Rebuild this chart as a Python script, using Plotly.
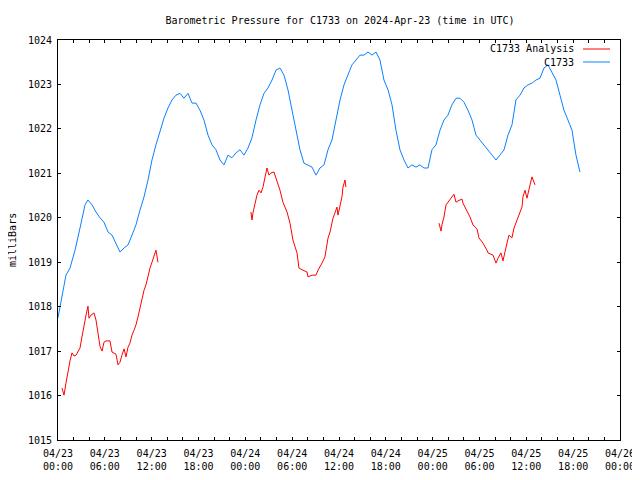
import pandas as pd
import plotly.graph_objects as go

START = pd.Timestamp("2024-04-23 00:00")

# C1733 observed (hours since 2024-04-23 00:00 UTC, millibars)
obs_hours = [0, 0.51, 1.02, 1.54, 2.18, 2.82, 3.46, 3.84, 4.36, 4.87, 5.38, 5.89, 6.41, 6.92, 7.43, 7.94,
             8.46, 8.97, 9.48, 9.99, 10.5, 11.02, 11.53, 12.04, 12.55, 13.07, 13.58, 14.09, 14.6, 15.12,
             15.63, 16.14, 16.65, 17.17, 17.68, 18.19, 18.7, 19.22, 19.73, 20.24, 20.75, 21.27, 21.78,
             22.29, 22.8, 23.32, 23.83, 24.34, 24.85, 25.37, 25.88, 26.39, 26.9, 27.42, 27.93, 28.44,
             28.95, 29.46, 29.98, 30.49, 31.0, 31.51, 32.03, 32.54, 33.05, 33.56, 34.08, 34.59, 35.1,
             35.61, 36.13, 36.64, 37.15, 37.66, 38.18, 38.69, 39.2, 39.71, 40.23, 40.74, 41.25, 41.76,
             42.28, 42.79, 43.3, 43.81, 44.33, 44.84, 45.35, 45.86, 46.37, 46.89, 47.4, 47.91, 48.42,
             48.94, 49.45, 49.96, 50.47, 50.99, 51.5, 52.01, 52.52, 53.04, 53.55, 54.06, 54.57, 55.09,
             55.6, 56.11, 56.62, 57.14, 57.65, 58.16, 58.67, 59.19, 59.7, 60.21, 60.72, 61.24, 61.75,
             62.26, 62.77, 63.29, 63.8, 64.31, 64.82, 65.33, 65.85, 66.36, 66.87]
obs_mb = [1017.75, 1018.26, 1018.71, 1018.87, 1019.27, 1019.77, 1020.29, 1020.4, 1020.29, 1020.13,
          1020.0, 1019.9, 1019.68, 1019.61, 1019.43, 1019.23, 1019.32, 1019.39, 1019.61, 1019.84,
          1020.17, 1020.47, 1020.85, 1021.3, 1021.64, 1021.97, 1022.24, 1022.47, 1022.65, 1022.76,
          1022.8, 1022.69, 1022.8, 1022.58, 1022.58, 1022.42, 1022.2, 1021.86, 1021.64, 1021.53,
          1021.3, 1021.19, 1021.41, 1021.35, 1021.46, 1021.53, 1021.41, 1021.57, 1021.8, 1022.2,
          1022.54, 1022.8, 1022.92, 1023.1, 1023.32, 1023.37, 1023.21, 1022.88, 1022.42, 1021.97,
          1021.53, 1021.23, 1021.19, 1021.14, 1020.96, 1021.12, 1021.19, 1021.53, 1021.75, 1022.2,
          1022.65, 1022.99, 1023.21, 1023.44, 1023.55, 1023.66, 1023.66, 1023.73, 1023.66, 1023.73,
          1023.55, 1023.1, 1022.88, 1022.54, 1021.97, 1021.53, 1021.3, 1021.12, 1021.19, 1021.14,
          1021.19, 1021.12, 1021.12, 1021.53, 1021.64, 1021.97, 1022.2, 1022.31, 1022.54, 1022.69,
          1022.69, 1022.6, 1022.42, 1022.2, 1021.86, 1021.75, 1021.64, 1021.53, 1021.41, 1021.3,
          1021.41, 1021.53, 1021.86, 1022.09, 1022.65, 1022.76, 1022.92, 1022.99, 1023.03, 1023.1,
          1023.14, 1023.37, 1023.44, 1023.28, 1023.1, 1022.76, 1022.42, 1022.2, 1021.97, 1021.41,
          1021.03]

# C1733 Analysis, three separate segments
ana1_hours = [0.51, 0.77, 1.02, 1.28, 1.54, 1.79, 2.05, 2.31, 2.56, 2.82, 3.07, 3.33, 3.59, 3.84, 3.97,
              4.23, 4.61, 4.87, 5.12, 5.38, 5.64, 5.89, 6.15, 6.66, 6.92, 7.43, 7.69, 7.94, 8.2, 8.46,
              8.71, 8.97, 9.22, 9.48, 9.74, 9.99, 10.25, 10.5, 10.76, 11.02, 11.27, 11.53, 11.79, 12.04,
              12.3, 12.55, 12.81]
ana1_mb = [1016.17, 1016.01, 1016.28, 1016.57, 1016.78, 1016.96, 1016.89, 1016.91, 1016.98, 1017.07,
           1017.32, 1017.59, 1017.81, 1018.01, 1017.74, 1017.81, 1017.86, 1017.7, 1017.36, 1017.11,
           1017.0, 1017.2, 1017.23, 1017.23, 1016.98, 1016.93, 1016.69, 1016.75, 1016.91, 1017.05,
           1016.87, 1017.09, 1017.18, 1017.36, 1017.47, 1017.59, 1017.77, 1017.97, 1018.15, 1018.37,
           1018.49, 1018.71, 1018.87, 1019.0, 1019.16, 1019.27, 1019.0]
ana2_hours = [24.72, 24.85, 24.98, 25.24, 25.49, 25.75, 26.01, 26.26, 26.52, 26.77, 27.03, 27.29, 27.67,
              28.06, 28.44, 28.82, 29.34, 29.72, 30.1, 30.62, 30.87, 31.39, 31.9, 32.03, 32.54, 33.05,
              33.31, 33.82, 34.2, 34.59, 34.85, 35.23, 35.74, 35.87, 36.13, 36.38, 36.51, 36.77, 36.89]
ana2_mb = [1020.13, 1019.95, 1020.11, 1020.33, 1020.51, 1020.62, 1020.56, 1020.69, 1020.92, 1021.12,
           1020.96, 1021.01, 1021.03, 1020.83, 1020.62, 1020.35, 1020.13, 1019.88, 1019.5, 1019.21,
           1018.87, 1018.82, 1018.78, 1018.67, 1018.71, 1018.71, 1018.82, 1018.98, 1019.12, 1019.54,
           1019.68, 1019.99, 1020.24, 1020.06, 1020.24, 1020.47, 1020.69, 1020.85, 1020.69]
ana3_hours = [48.81, 49.07, 49.19, 49.45, 49.71, 49.96, 50.35, 50.73, 50.99, 51.24, 51.76, 51.88, 52.4,
              52.78, 53.16, 53.68, 53.93, 54.44, 54.96, 55.09, 55.73, 55.85, 56.11, 56.37, 56.75, 57.01,
              57.26, 57.52, 57.78, 58.16, 58.42, 58.8, 58.93, 59.19, 59.44, 59.57, 59.83, 60.08, 60.34,
              60.6, 60.72, 61.11]
ana3_mb = [1019.88, 1019.7, 1019.84, 1020.02, 1020.29, 1020.35, 1020.42, 1020.53, 1020.35, 1020.38,
           1020.42, 1020.33, 1020.15, 1020.02, 1019.84, 1019.75, 1019.55, 1019.43, 1019.27, 1019.21,
           1019.16, 1019.09, 1018.98, 1019.09, 1019.21, 1019.03, 1019.27, 1019.43, 1019.61, 1019.55,
           1019.77, 1019.95, 1019.99, 1020.11, 1020.24, 1020.47, 1020.62, 1020.44, 1020.62, 1020.78,
           1020.92, 1020.74]

y_ticks = [1015, 1016, 1017, 1018, 1019, 1020, 1021, 1022, 1023, 1024]
x_tick_hours = list(range(0, 73, 2))
x_label_every = 6

FONT = "DejaVu Sans Mono"
# the page body adds an 8px margin around the figure
FIG_W, FIG_H = 632, 464
L, R, T, B = 50, 20, 32, 32
PW, PH = FIG_W - L - R, FIG_H - T - B


def to_time(hours):
    return [START + pd.Timedelta(hours=h) for h in hours]


ana_x = to_time(ana1_hours) + [None] + to_time(ana2_hours) + [None] + to_time(ana3_hours)
ana_y = ana1_mb + [None] + ana2_mb + [None] + ana3_mb

fig = go.Figure()
fig.add_trace(go.Scatter(x=ana_x, y=ana_y, mode="lines", name="C1733 Analysis",
                         line=dict(color="#ff0000", width=1), connectgaps=False))
fig.add_trace(go.Scatter(x=to_time(obs_hours), y=obs_mb, mode="lines", name="C1733",
                         line=dict(color="#0a80ff", width=1)))

tickvals = to_time(x_tick_hours)
ticktext = []
for h in x_tick_hours:
    if h % x_label_every == 0:
        t = START + pd.Timedelta(hours=h)
        ticktext.append(t.strftime("%m/%d") + "<br>" + t.strftime("%H:%M"))
    else:
        ticktext.append("")

fig.update_layout(
    width=FIG_W, height=FIG_H,
    margin=dict(l=L, r=R, t=T, b=B, autoexpand=False),
    paper_bgcolor="white", plot_bgcolor="white",
    showlegend=False,
    font=dict(family=FONT, size=10, color="black"),
    title=dict(text="Barometric Pressure for C1733 on 2024-Apr-23 (time in UTC)",
               x=332 / FIG_W, xanchor="center", y=1 - 12 / FIG_H, yanchor="middle",
               font=dict(family=FONT, size=10, color="black")),
)
fig.update_xaxes(
    range=[START, START + pd.Timedelta(hours=72)],
    tickmode="array", tickvals=tickvals, ticktext=ticktext,
    ticks="inside", ticklen=3, tickcolor="black", tickwidth=1,
    showline=True, linecolor="black", linewidth=1, mirror="allticks",
    showgrid=False, zeroline=False, ticklabelstandoff=4,
    ticklabeloverflow="allow",
    tickfont=dict(family=FONT, size=10, color="black"),
)
fig.update_yaxes(
    range=[1015, 1024],
    tickmode="array", tickvals=y_ticks, ticktext=[str(v) for v in y_ticks],
    ticks="inside", ticklen=3, tickcolor="black", tickwidth=1,
    showline=True, linecolor="black", linewidth=1, mirror="allticks",
    showgrid=False, zeroline=False, ticklabelstandoff=3,
    tickfont=dict(family=FONT, size=10, color="black"),
)

# y axis title placed like gnuplot's
fig.add_annotation(text="milliBars", xref="paper", yref="paper",
                   x=-(L - 4) / PW, y=0.5, xanchor="center", yanchor="middle",
                   textangle=-90, showarrow=False,
                   font=dict(family=FONT, size=10, color="black"))

# gnuplot-style legend (text on the left, line sample on the right)
legend_items = [("C1733 Analysis", "#ff0000", 49), ("C1733", "#0a80ff", 62)]
for label, color, ypix in legend_items:
    fig.add_annotation(text=label, xref="paper", yref="paper",
                       x=(576 - 58) / PW, y=1 - (ypix - 40) / PH,
                       xanchor="right", yanchor="middle", showarrow=False,
                       font=dict(family=FONT, size=10, color="black"))
    fig.add_shape(type="line", xref="paper", yref="paper",
                  x0=(583 - 58) / PW, x1=(610 - 58) / PW,
                  y0=1 - (ypix - 40) / PH, y1=1 - (ypix - 40) / PH,
                  line=dict(color=color, width=1))

fig.write_html("out.html")
